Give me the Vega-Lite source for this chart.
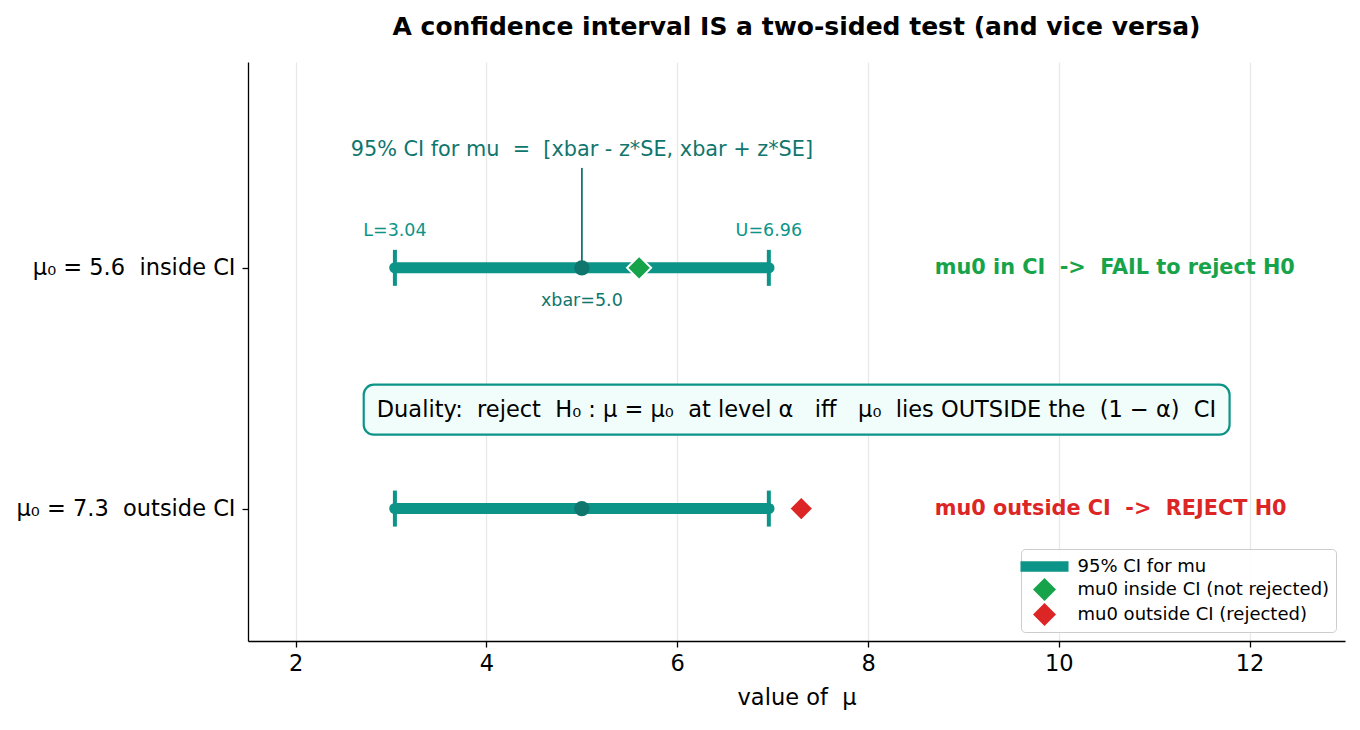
{
  "$schema": "https://vega.github.io/schema/vega-lite/v6.json",
  "width": 1097,
  "height": 579,
  "autosize": {"type": "none"},
  "padding": {"left": 248, "top": 62, "right": 15, "bottom": 89},
  "background": "white",
  "config": {
    "view": {"stroke": null},
    "font": "DejaVu Sans",
    "axis": {"labelFont": "DejaVu Sans", "titleFont": "DejaVu Sans", "labelColor": "black", "titleColor": "black", "domainColor": "black", "tickColor": "black", "domainWidth": 1.3, "tickWidth": 1.3, "tickSize": 6, "labelFontSize": 22.5, "titleFontSize": 22.5, "titleFontWeight": "normal"}
  },
  "title": {"text": "A confidence interval IS a two-sided test (and vice versa)", "fontSize": 25, "fontWeight": "bold", "font": "DejaVu Sans", "anchor": "middle", "offset": 22, "color": "black"},
  "layer": [
    {
      "data": {"values": [{"x1": 2.713, "x2": 11.79, "y1": 0.5145, "y2": 0.307}]},
      "mark": {"type": "rect", "fill": "#f0fdfa", "stroke": "#0d9488", "strokeWidth": 2.2, "cornerRadius": 10},
      "encoding": {
        "x": {"field": "x1", "type": "quantitative", "scale": {"domain": [1.5, 13], "nice": false, "zero": false},
          "axis": {"values": [2, 4, 6, 8, 10, 12], "format": "d", "grid": true, "gridColor": "#e8e8e8", "gridWidth": 1.3, "title": "value of\u00a0\u00a0μ", "labelPadding": 5, "titlePadding": 12, "labelFlush": false}},
        "x2": {"field": "x2"},
        "y": {"field": "y1", "type": "quantitative", "scale": {"domain": [-0.55, 1.855], "nice": false, "zero": false},
          "axis": {"values": [0, 1], "grid": false, "title": null, "labelLimit": 400, "labelExpr": "datum.value == 1 ? 'μ₀ = 5.6\u00a0\u00a0inside CI' : 'μ₀ = 7.3\u00a0\u00a0outside CI'", "labelPadding": 7}},
        "y2": {"field": "y2"}
      }
    },
    {
      "data": {"values": [{"x": 5.0, "ytop": 1.415, "ybot": 1.0}]},
      "mark": {"type": "rule", "color": "#0f766e", "strokeWidth": 1.8},
      "encoding": {
        "x": {"field": "x", "type": "quantitative"},
        "y": {"field": "ytop", "type": "quantitative"},
        "y2": {"field": "ybot"}
      }
    },
    {
      "data": {"values": [{"y": 1, "lo": 3.04, "hi": 6.96}, {"y": 0, "lo": 3.04, "hi": 6.96}]},
      "layer": [
        {
          "mark": {"type": "rule", "color": "#0d9488", "strokeWidth": 11, "strokeCap": "butt"},
          "encoding": {
            "x": {"field": "lo", "type": "quantitative"},
            "x2": {"field": "hi"},
            "y": {"field": "y", "type": "quantitative"}
          }
        },
        {
          "mark": {"type": "circle", "color": "#0d9488", "size": 130, "opacity": 1},
          "encoding": {
            "x": {"field": "lo", "type": "quantitative"},
            "y": {"field": "y", "type": "quantitative"}
          }
        },
        {
          "mark": {"type": "circle", "color": "#0d9488", "size": 130, "opacity": 1},
          "encoding": {
            "x": {"field": "hi", "type": "quantitative"},
            "y": {"field": "y", "type": "quantitative"}
          }
        },
        {
          "mark": {"type": "tick", "orient": "vertical", "color": "#0d9488", "size": 36, "thickness": 4, "opacity": 1},
          "encoding": {
            "x": {"field": "lo", "type": "quantitative"},
            "y": {"field": "y", "type": "quantitative"}
          }
        },
        {
          "mark": {"type": "tick", "orient": "vertical", "color": "#0d9488", "size": 36, "thickness": 4, "opacity": 1},
          "encoding": {
            "x": {"field": "hi", "type": "quantitative"},
            "y": {"field": "y", "type": "quantitative"}
          }
        }
      ]
    },
    {
      "data": {"values": [{"x": 5.0, "y": 1}, {"x": 5.0, "y": 0}]},
      "mark": {"type": "circle", "color": "#0f766e", "size": 236, "opacity": 1},
      "encoding": {
        "x": {"field": "x", "type": "quantitative"},
        "y": {"field": "y", "type": "quantitative"}
      }
    },
    {
      "data": {"values": [
        {"mu0": 5.6, "y": 1, "status": "mu0 inside CI (not rejected)"},
        {"mu0": 7.3, "y": 0, "status": "mu0 outside CI (rejected)"}
      ]},
      "mark": {"type": "point", "filled": true, "size": 576, "stroke": "white", "strokeWidth": 2, "opacity": 1},
      "encoding": {
        "x": {"field": "mu0", "type": "quantitative"},
        "y": {"field": "y", "type": "quantitative"},
        "color": {"field": "status", "type": "nominal",
          "scale": {"domain": ["95% CI for mu", "mu0 inside CI (not rejected)", "mu0 outside CI (rejected)"], "range": ["#0d9488", "#16a34a", "#dc2626"]},
          "legend": {"title": null, "orient": "bottom-right", "offset": 9, "padding": 6, "rowPadding": 2, "symbolSize": 529, "symbolOffset": 6, "labelOffset": 21.5, "labelLimit": 500, "labelFontSize": 18, "labelFont": "DejaVu Sans", "labelColor": "black", "strokeColor": "#cccccc", "fillColor": "rgba(255,255,255,0.85)", "cornerRadius": 4, "symbolStrokeWidth": 0, "symbolOpacity": 1}},
        "shape": {"field": "status", "type": "nominal",
          "scale": {"domain": ["95% CI for mu", "mu0 inside CI (not rejected)", "mu0 outside CI (rejected)"], "range": ["M-2.09,-0.45H2.09V0.45H-2.09Z", "M0,-1L1,0L0,1L-1,0Z", "M0,-1L1,0L0,1L-1,0Z"]}}
      }
    },
    {
      "data": {"values": [
        {"x": 3.04, "y": 1.1535, "label": "L=3.04"},
        {"x": 6.96, "y": 1.1535, "label": "U=6.96"}
      ]},
      "mark": {"type": "text", "color": "#0d9488", "fontSize": 17.5, "align": "center", "baseline": "middle", "font": "DejaVu Sans"},
      "encoding": {
        "x": {"field": "x", "type": "quantitative"},
        "y": {"field": "y", "type": "quantitative"},
        "text": {"field": "label"}
      }
    },
    {
      "data": {"values": [
        {"x": 5.0, "y": 0.863, "label": "xbar=5.0", "size": "s"},
        {"x": 5.0, "y": 1.49, "label": "95% CI for mu\u00a0\u00a0=\u00a0\u00a0[xbar - z*SE, xbar + z*SE]", "size": "l"}
      ]},
      "mark": {"type": "text", "color": "#0f766e", "align": "center", "baseline": "middle", "font": "DejaVu Sans"},
      "encoding": {
        "x": {"field": "x", "type": "quantitative"},
        "y": {"field": "y", "type": "quantitative"},
        "text": {"field": "label"},
        "size": {"field": "size", "type": "nominal", "scale": {"domain": ["s", "l"], "range": [17.5, 20.8]}, "legend": null}
      }
    },
    {
      "data": {"values": [
        {"x": 8.7, "y": 1, "label": "mu0 in CI\u00a0\u00a0->\u00a0\u00a0FAIL to reject H0", "kind": "in"},
        {"x": 8.7, "y": 0, "label": "mu0 outside CI\u00a0\u00a0->\u00a0\u00a0REJECT H0", "kind": "out"}
      ]},
      "mark": {"type": "text", "fontSize": 20.8, "fontWeight": "bold", "align": "left", "baseline": "middle", "font": "DejaVu Sans"},
      "encoding": {
        "x": {"field": "x", "type": "quantitative"},
        "y": {"field": "y", "type": "quantitative"},
        "text": {"field": "label"},
        "fill": {"field": "kind", "type": "nominal", "scale": {"domain": ["in", "out"], "range": ["#16a34a", "#dc2626"]}, "legend": null}
      }
    },
    {
      "data": {"values": [{"x": 7.25, "y": 0.41, "label": "Duality:\u00a0\u00a0reject\u00a0\u00a0H₀ : μ = μ₀\u00a0\u00a0at level α\u00a0\u00a0\u00a0iff\u00a0\u00a0\u00a0μ₀\u00a0\u00a0lies OUTSIDE the\u00a0\u00a0(1 − α)\u00a0\u00a0CI"}]},
      "mark": {"type": "text", "fontSize": 22.5, "color": "black", "align": "center", "baseline": "middle", "font": "DejaVu Sans"},
      "encoding": {
        "x": {"field": "x", "type": "quantitative"},
        "y": {"field": "y", "type": "quantitative"},
        "text": {"field": "label"}
      }
    }
  ]
}
